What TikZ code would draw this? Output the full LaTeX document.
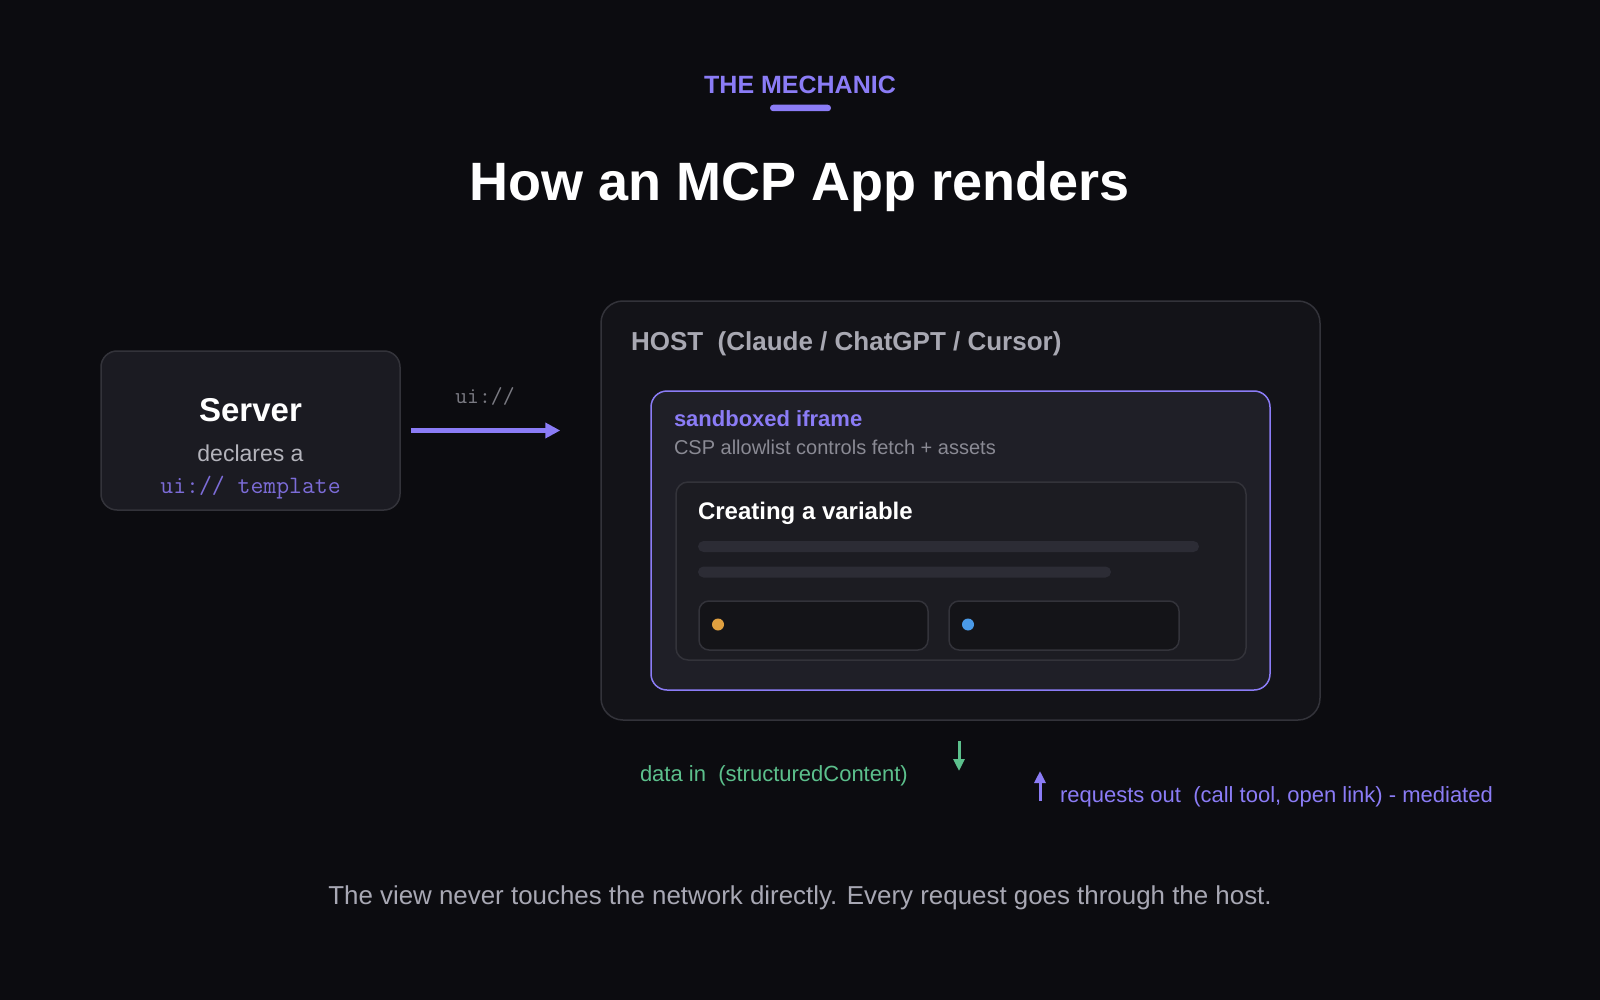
\documentclass[tikz,border=0pt]{standalone}
\usepackage{fontspec}
\setmainfont{Liberation Sans}
\usetikzlibrary{arrows.meta}
\definecolor{bg}{HTML}{0C0C10}
\definecolor{accent}{HTML}{8B7CF6}
\definecolor{accentdim}{HTML}{7C6CD8}
\definecolor{hostfill}{HTML}{131318}
\definecolor{srvfill}{HTML}{1B1B22}
\definecolor{framefill}{HTML}{1F1F27}
\definecolor{cardfill}{HTML}{1C1C22}
\definecolor{btnfill}{HTML}{141418}
\definecolor{edge}{HTML}{33333A}
\definecolor{barcol}{HTML}{2C2C35}
\definecolor{greenc}{HTML}{5CC08C}
\definecolor{orangec}{HTML}{E0A040}
\definecolor{bluec}{HTML}{4A9AE8}
\definecolor{softtext}{HTML}{B4B4BC}
\definecolor{hosttext}{HTML}{A8A8B2}
\definecolor{csptext}{HTML}{8A8A94}
\definecolor{monogray}{HTML}{7A7A82}
\definecolor{foot}{HTML}{A8A8B4}
\tikzset{
  panel/.style={draw=edge, line width=1.5pt, inner sep=0pt},
  txt/.style={inner sep=0pt, outer sep=0pt},
  bold/.style={font=\fontsize{#1}{#1}\selectfont\bfseries},
  reg/.style={font=\fontsize{#1}{#1}\selectfont},
  mono/.style={font=\fontsize{#1}{#1}\selectfont\ttfamily},
  flow/.style={line width=4.5pt, -{Triangle[length=15pt,width=15pt]}},
  small/.style={line width=3pt, -{Triangle[length=12pt,width=11pt]}}
}
\begin{document}
\begin{tikzpicture}[x=1pt,y=-1pt]
\fill[bg] (0,0) rectangle (1600,1000);
\useasboundingbox (0,0) rectangle (1600,1000);

% header
\node[txt, bold=25, text=accent, anchor=base] (kicker) at (800,94) {THE MECHANIC};
\node[fill=accent, rounded corners=3.2pt, minimum width=61pt, minimum height=6.5pt, inner sep=0pt] (kbar) at (800.5,108) {};
\node[txt, bold=54, text=white, anchor=base] (title) at (800,201) {How an MCP App renders};

% server
\node[panel, fill=srvfill, rounded corners=16pt, minimum width=299pt, minimum height=159pt] (server) at (250.5,430.5) {};
\node[txt, bold=33, text=white, anchor=base] (srvname) at (250.5,421) {Server};
\node[txt, reg=23, text=softtext, anchor=base] (srvdecl) at (250.5,461) {declares a};
\node[txt, mono=25, text=accentdim, anchor=base] (srvtpl) at (250.5,493) {ui:// template};

% host
\node[panel, fill=hostfill, rounded corners=22pt, minimum width=719pt, minimum height=419pt] (host) at (960.5,510.5) {};
\node[txt, bold=26, text=hosttext, anchor=base west] (hostlbl) at (631,350) {HOST\ \ (Claude / ChatGPT / Cursor)};

% iframe
\node[draw=accent, line width=1.5pt, inner sep=0pt, fill=framefill, rounded corners=16pt, minimum width=619pt, minimum height=299pt] (frame) at (960.5,540.5) {};
\node[txt, bold=22, text=accent, anchor=base west] (framelbl) at (674,426) {sandboxed iframe};
\node[txt, reg=20, text=csptext, anchor=base west] (csp) at (674,454) {CSP allowlist controls fetch + assets};

% card
\node[panel, fill=cardfill, rounded corners=12pt, minimum width=570pt, minimum height=178pt] (card) at (961,571) {};
\node[txt, bold=24, text=white, anchor=base west] (cardtitle) at (698,519) {Creating a variable};
\node[fill=barcol, inner sep=0pt, rounded corners=5.5pt, minimum width=501pt, minimum height=11pt] (bar1) at (948.5,546.5) {};
\node[fill=barcol, inner sep=0pt, rounded corners=5.5pt, minimum width=413pt, minimum height=11pt] (bar2) at (904.5,572) {};
\node[panel, draw=edge, fill=btnfill, rounded corners=10pt, minimum width=229pt, minimum height=49pt] (btn1) at (813.5,625.5) {};
\node[panel, draw=edge, fill=btnfill, rounded corners=10pt, minimum width=230pt, minimum height=49pt] (btn2) at (1064,625.5) {};
\node[circle, fill=orangec, inner sep=0pt, minimum size=12pt] (dot1) at (718,624.5) {};
\node[circle, fill=bluec, inner sep=0pt, minimum size=12pt] (dot2) at (968,624.5) {};

% server -> host
\draw[flow, draw=accent, shorten <=10pt, shorten >=40pt] (server.east) -- (server.east -| host.west);
\node[txt, mono=23, text=monogray, anchor=base] (uilbl) at (485,403) {ui://};

% data in / requests out
\coordinate (dinA) at (959,741);
\coordinate (dinB) at (959,771);
\draw[small, draw=greenc] (dinA) -- (dinB);
\node[txt, reg=22, text=greenc, anchor=base west] (dinlbl) at (640,781) {data in\ \ (structuredContent)};
\coordinate (reqA) at (1040,801);
\coordinate (reqB) at (1040,771);
\draw[small, draw=accent] (reqA) -- (reqB);
\node[txt, reg=22, text=accent, anchor=base west] (reqlbl) at (1060,802) {requests out\ \ (call tool, open link) - mediated};

% footer
\node[txt, reg=25.9, text=foot, anchor=base] (footer) at (800,904) {The view never touches the network directly. Every request goes through the host.};
\end{tikzpicture}
\end{document}
